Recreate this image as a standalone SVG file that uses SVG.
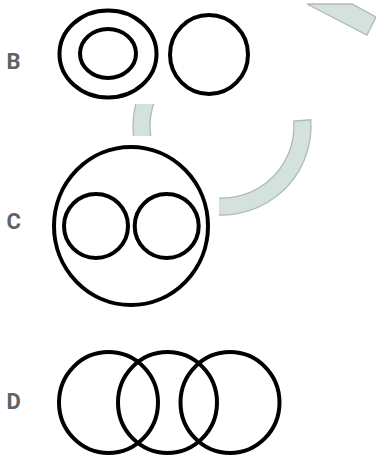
<svg xmlns="http://www.w3.org/2000/svg" width="376" height="461" viewBox="0 0 376 461">
<style>
.wm{fill:#d4e2de;stroke:#b2b8b6;stroke-width:1.3}
.bg{fill:#ffffff}
.c{fill:none;stroke:#000;stroke-width:4}
.lbl{font-family:Roboto,"Liberation Sans",sans-serif;font-weight:bold;font-size:22px;fill:#5f6368}
</style>
<g id="watermark">
<path class="wm" d="M310.8 119.8 A89 89 0 1 1 153.8 68.8 L166.9 79.7 A72 72 0 1 0 293.8 121.0 Z"/>
<path class="wm" d="M307 4 L352 4 L376 17 L367 35 Z"/>
</g>
<g id="backgrounds">
<rect class="bg" x="52" y="0" width="201" height="104"/>
<rect class="bg" x="45" y="136" width="174" height="176"/>
<rect class="bg" x="50" y="340" width="240" height="121"/>
</g>
<g id="nodeB">
<text class="lbl" x="6.5" y="69">B</text>
<ellipse class="c" cx="108" cy="54" rx="48.5" ry="43.5"/>
<ellipse class="c" cx="108" cy="53.5" rx="28" ry="24.5"/>
<ellipse class="c" cx="209" cy="54.5" rx="39" ry="39.5"/>
</g>
<g id="nodeC">
<text class="lbl" x="6.5" y="229">C</text>
<ellipse class="c" cx="131" cy="226" rx="77" ry="79"/>
<circle class="c" cx="96" cy="226" r="32"/>
<circle class="c" cx="166.7" cy="226" r="32"/>
</g>
<g id="nodeD">
<text class="lbl" x="6.5" y="409">D</text>
<ellipse class="c" cx="108.5" cy="402.5" rx="49.5" ry="50.5"/>
<ellipse class="c" cx="167.5" cy="402.5" rx="49.5" ry="50.5"/>
<ellipse class="c" cx="230" cy="402.5" rx="49.5" ry="50.5"/>
</g>
<g id="connectors"></g>
</svg>
